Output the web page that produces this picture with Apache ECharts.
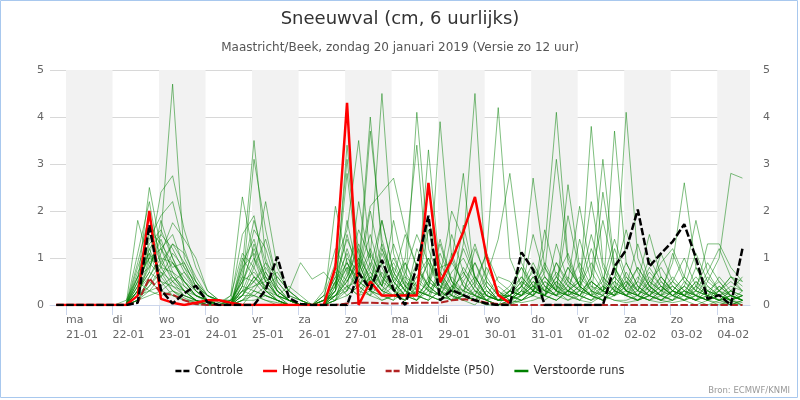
<!doctype html>
<html lang="nl">
<head>
<meta charset="UTF-8">
<title>Sneeuwval (cm, 6 uurlijks)</title>
<style>
  html, body { margin: 0; padding: 0; background: #fff; }
  #main { width: 800px; height: 400px; }
</style>
</head>
<body>
<div id="main"></div>
<script src="https://cdn.jsdelivr.net/npm/echarts@6/dist/echarts.min.js"></script>
<script>
// tijd in uren vanaf ma 21-01 00:00; eerste waarde zo 20-01 19:00, daarna elke 6 uur
var startUur = -5, stapUur = 6;
var dagNamen = ['ma','di','wo','do','vr','za','zo','ma','di','wo','do','vr','za','zo','ma'];
var dagDatums = ['21-01','22-01','23-01','24-01','25-01','26-01','27-01','28-01',
                 '29-01','30-01','31-01','01-02','02-02','03-02','04-02'];
var yTicks = [0, 1, 2, 3, 4, 5];

var controle = [0,0,0,0,0,0,0,0.05,1.7,0.32,
  0.03,0.25,0.41,0.06,0,0,0,0,0.32,1.03,
  0.15,0.02,0,0,0,0,0.68,0.33,0.96,0.33,
  0,0.82,1.9,0.1,0.32,0.21,0.1,0.03,0,0,
  1.12,0.75,0,0,0,0,0,0,0.82,1.17,
  2.03,0.82,1.1,1.35,1.72,1.0,0.13,0.21,0,1.2];

var hogeResolutie = [0,0,0,0,0,0,0,0.2,2.0,0.13,
  0.05,0,0.05,0.1,0.1,0.05,0,0,0,0,
  0,0,0,0,0.8,4.3,0,0.5,0.2,0.2,
  0.2,0.2,2.6,0.48,0.96,1.56,2.3,1.03,0.21,0.04];

var middelste = [0,0,0,0,0,0,0,0.05,0.57,0.25,
  0.22,0.1,0.02,0,0,0,0,0,0,0,
  0,0,0,0,0,0.03,0.05,0.05,0.04,0.03,
  0.03,0.05,0.05,0.05,0.1,0.12,0.1,0.05,0.02,0,
  0,0,0,0,0,0,0,0,0,0,
  0,0,0,0,0,0,0,0,0,0];

// verstoorde runs (ensemble leden)
var m01 = [0,0,0,0,0,0, 0,0.3,1.2,1.5,4.7,1.0,0.5,0.2,0.1, 0.1,0.5,1.2,0.6,0.2,0.1,0,0,
  0,0.2,0.5,1.0,0.6,0.3,0.8,0.4,0.2,0.5,0.3,0.1,0.2,0.1,0,0,
  0.1,0.3,0.6,0.2,0.1,0.3,0.5,0.2,0.1,0.4,0.2,0.1,0.3,0.1,0.2,0.1,0,0.1,0.2,0.1,0];
var m02 = [0,0,0,0,0,0, 0,0.5,2.5,1.2,0.6,0.3,0.1,0,0, 0,0.8,3.5,1.0,0.3,0.1,0,0,
  0.1,0.6,1.4,0.8,4.0,1.2,0.5,0.2,0.6,1.0,0.4,0.2,0.1,0,0.3,0.1,
  0.2,0.5,0.3,1.2,4.1,1.0,0.4,0.2,0.1,0.3,0.5,0.2,0.1,0.3,0.4,0.2,0.1,0.3,0.2,0.1,0.2];
var m03 = [0,0,0,0,0,0, 0,1.8,0.9,0.6,0.3,0.1,0,0,0, 0.2,2.3,1.0,0.5,0.2,0,0,0,
  0,2.1,0.9,0.5,0.3,1.2,0.6,0.3,0.1,0.4,1.1,0.5,0.2,0.1,0.5,0.2,
  0.3,0.2,0.8,0.4,0.2,0.6,0.3,3.8,0.9,0.4,0.2,0.1,0.3,0.6,0.3,0.2,0.5,0.2,0.1,0,0.1];
var m04 = [0,0,0,0,0,0, 0,0.2,1.0,2.4,2.75,1.6,0.8,0.3,0.1, 0,0.4,3.1,1.6,0.5,0.2,0.1,0,
  0,0.3,3.4,1.1,0.5,0.2,0.1,0.7,1.5,0.9,0.4,0.3,1.2,0.6,0.2,0.1,
  0.1,0.4,2.7,0.8,0.3,0.2,0.1,0.5,0.3,0.6,1.6,0.7,0.3,0.2,0.1,0.3,0.2,0.1,0.4,0.2,0.1];
var m05 = [0,0,0,0,0,0, 0,0.4,1.4,1.9,2.2,1.2,0.5,0.1,0, 0,0.3,0.9,2.2,0.8,0.3,0.1,0,
  0.2,0.9,1.6,3.5,1.0,0.4,0.2,0.1,0.3,0.2,0.8,0.9,2.8,0.4,0.1,0,
  0,0.2,0.4,0.3,0.9,0.5,2.1,0.7,0.3,0.2,0.4,0.8,0.4,0.2,0.3,0.6,1.8,0.7,0.3,0.1,0.2];
var m06 = [0,0,0,0,0,0, 0,0.1,0.6,1.1,1.75,1.4,1.0,0.3,0.1, 0.1,1.5,1.9,0.7,0.3,0.1,0,0,
  0,0.4,0.8,0.6,3.7,1.4,0.5,0.9,0.3,0.2,0.1,0.4,0.6,1.3,0.5,0.2,
  0.2,0.1,0.3,0.7,3.1,0.9,0.4,0.2,0.3,0.5,0.2,0.1,0.2,0.4,0.2,0.1,0.3,1.3,1.3,0.8,0.5];
var m07 = [0,0,0,0,0,0, 0,1.1,2.2,0.8,0.4,0.2,0.1,0.05,0, 0,0.6,1.6,1.2,0.4,0.1,0,0,
  0.3,1.2,0.7,1.6,1.0,4.5,1.1,0.4,0.2,3.3,0.7,0.3,0.2,0.1,0.4,0.1,
  0.1,0.3,0.2,0.5,0.3,2.56,0.8,0.3,0.2,3.7,0.9,0.4,0.2,0.1,0.3,0.2,0.1,0.2,0.4,0.2,0.1];
var m08 = [0,0,0,0,0,0, 0.1,0.6,1.6,1.3,0.9,0.5,0.2,0.1,0, 0.1,0.2,0.5,0.9,0.6,0.3,0.9,0.55,
  0.7,0.4,3.1,0.9,0.3,0.2,0.6,1.5,0.8,0.3,3.9,1.0,0.4,0.2,0.1,0,
  0.3,0.6,0.3,0.2,0.4,0.3,0.2,0.6,3.1,0.8,0.3,0.5,1.5,0.6,0.3,0.2,0.4,0.2,0.1,0.3,0.2];
var m09 = [0,0,0,0,0,0, 0,0.3,0.8,1.5,1.2,0.7,0.3,0.1,0, 0,0.9,1.4,0.5,0.2,0,0,0,
  0,0.1,0.3,0.8,2.1,2.4,2.7,1.6,0.8,0.4,0.2,0.1,0.5,0.9,0.3,0.1,
  0.2,0.1,0.3,0.6,0.3,0.2,0.4,0.9,0.4,0.2,4.1,1.0,0.4,0.2,0.5,0.3,0.2,0.1,0.3,0.5,0.3];
var m10 = [0,0,0,0,0,0, 0,0.9,1.9,1.0,0.5,0.2,0.1,0,0, 0,0.2,0.6,0.4,0.1,0,0,0,
  0.1,0.5,0.9,0.4,0.8,1.8,0.7,0.3,4.1,1.2,0.5,0.3,0.1,0.2,0.6,0.2,
  0.4,0.8,0.3,0.2,0.6,1.1,0.4,0.2,2.4,0.8,0.3,0.2,0.6,0.3,0.9,2.6,0.8,0.3,0.2,0.1,0.2];
var m11 = [0,0,0,0,0,0, 0,0.2,0.5,0.9,1.3,1.1,0.6,0.2,0.05, 0.2,1.1,0.8,1.4,0.5,0.2,0.1,0,
  0,0.2,0.6,1.3,0.7,0.4,1.0,0.5,0.3,1.6,0.6,0.2,1.3,4.5,0.4,0.1,
  0.2,0.4,0.9,0.4,0.2,0.5,0.3,1.2,0.5,0.3,0.2,0.6,0.3,1.1,0.5,0.2,0.1,0.5,1.0,2.8,2.7];
var m12 = [0,0,0,0,0,0, 0,0.7,1.1,0.7,0.3,0.15,0.05,0,0, 0,0.1,0.3,0.2,0.1,0,0,0,
  0.1,0.3,1.8,0.6,1.2,0.5,0.3,0.2,0.1,0.4,0.2,0.7,1.0,0.5,1.1,4.2,
  1.0,0.4,0.2,0.5,0.3,0.8,0.4,0.2,0.6,0.3,0.2,0.1,0.4,0.2,0.1,0.3,0.6,0.3,0.1,0.2,0.1];
var m13 = [0,0,0,0,0,0, 0,0.4,1.3,1.6,1.0,0.4,0.2,0.1,0.05, 0,0.7,1.8,0.9,0.3,0.1,0,0,
  0,0.8,0.5,1.0,0.4,0.9,0.4,1.0,3.4,0.5,0.3,1.5,0.7,0.3,0.1,0.4,
  0.2,0.5,0.3,0.9,0.4,0.2,1.4,0.5,0.3,0.8,0.4,0.2,0.5,0.8,0.4,0.2,0.3,0.2,0.6,0.3,0.1];
var m14 = [0,0,0,0,0,0, 0,0.1,0.4,0.8,0.7,0.5,0.3,0.1,0, 0,0.3,0.4,0.6,0.3,0.1,0,0,
  0.2,0.1,1.0,0.7,1.5,0.6,0.3,0.6,0.4,1.8,0.9,0.4,0.2,1.2,0.6,1.4,
  2.8,0.9,0.4,0.2,0.6,0.3,0.2,0.5,0.3,1.2,0.5,0.2,0.1,0.3,0.5,1.0,0.4,0.2,0.1,0.3,0.2];
var m15 = [0,0,0,0,0,0, 0,0.6,1.0,1.2,0.8,0.9,0.4,0.1,0, 0.1,0.5,1.0,0.3,0.1,0,0,0,
  0,0.4,0.9,0.4,0.2,1.1,0.5,0.2,0.1,0.3,0.6,2.0,1.4,0.6,0.2,0.1,
  0.1,0.3,1.5,0.6,0.3,1.9,0.7,0.3,0.1,0.4,0.2,0.3,0.7,0.4,0.2,0.4,0.2,0.1,0.3,0.6,0.4];
var m16 = [0,0,0,0,0,0, 0,0.3,0.7,0.5,0.4,0.3,0.2,0.05,0, 0,1.0,0.6,0.3,0.2,0.4,0.2,0,
  0.1,0.6,0.3,2.2,0.8,0.4,1.3,0.6,0.2,0.1,0.3,0.2,0.1,0.4,1.1,0.5,
  0.3,0.2,0.5,0.3,0.2,0.4,0.9,0.4,0.2,0.6,0.3,0.8,0.4,0.2,1.1,0.5,0.2,0.1,0.2,0.1,0];
var m17 = [0,0,0,0,0,0, 0,0.8,1.5,0.9,0.6,0.3,0.1,0,0, 0,0.2,0.2,0.4,0.6,0.3,0.1,0,
  0,0.2,0.7,0.3,0.6,0.3,0.2,0.1,1.2,0.6,0.3,0.9,0.5,0.2,0.1,0,
  0.1,0.2,0.4,0.2,1.3,0.5,0.3,0.2,0.4,0.2,0.7,0.3,0.2,0.4,0.2,0.1,0.4,0.9,0.5,0.2,0.1];
var m18 = [0,0,0,0,0,0, 0,0.2,0.9,1.2,1.5,0.8,0.3,0.1,0, 0,0.4,1.3,0.6,0.2,0.1,0,0,
  0,0.3,2.8,0.7,0.4,0.2,0.1,0.3,0.2,1.0,0.5,0.2,0.8,0.4,0.1,0.2,
  0.2,0.6,0.3,0.2,0.1,0.3,0.5,2.2,0.8,0.3,0.2,0.4,0.2,0.1,0.3,0.2,0.5,0.3,0.2,0.4,0.3];
var m19 = [0,0,0,0,0,0, 0,0.5,0.3,0.4,0.6,0.4,0.2,0.1,0, 0,0.1,0.2,0.1,0.05,0,0,0,
  0.1,0.2,0.4,0.5,1.1,0.6,0.3,0.2,0.5,0.3,0.2,0.1,0.3,0.2,0.1,0,
  0,0.1,0.2,0.4,0.2,0.1,0.3,0.2,0.1,0.2,0.3,0.1,0.2,0.1,0.3,0.1,0.2,0.1,0,0.1,0.05];
var m20 = [0,0,0,0,0,0, 0,0.1,0.2,0.3,0.5,0.7,0.4,0.2,0.1, 0,0.6,0.5,0.8,0.4,0.1,0,0,
  0,0.1,0.6,1.2,0.5,1.3,0.6,0.3,0.9,0.4,1.4,0.5,0.2,0.1,0.2,0.1,
  0.3,0.8,0.4,0.2,0.5,0.3,0.2,0.6,1.8,0.7,0.3,0.2,0.4,0.9,1.2,0.6,0.3,0.2,0.1,0.2,0.1];
var m21 = [0,0,0,0,0,0, 0,0.3,0.6,1.0,0.9,0.6,0.3,0.1,0, 0,0.2,0.8,0.3,0.1,0,0,0,
  0,0.5,0.2,0.4,0.9,0.4,1.8,0.7,0.3,0.2,0.1,0.4,0.3,0.9,0.4,0.1,
  0.1,0.4,0.2,1.6,0.6,0.3,0.2,0.1,0.4,0.2,0.6,0.3,1.0,0.5,0.2,0.4,1.1,0.5,0.3,0.1,0.2];
var m22 = [0,0,0,0,0,0, 0,0.4,1.1,0.5,0.2,0.1,0.1,0,0, 0,0.3,0.5,0.2,0.1,0,0,0,
  0.1,0.3,1.2,0.5,0.3,0.7,0.3,0.1,0.4,0.9,0.3,0.1,0.2,0.1,0.3,0.1,
  0.2,0.1,0.3,0.2,0.5,0.2,0.1,0.3,0.2,0.5,0.3,0.2,0.1,0.2,0.4,0.2,0.1,0.3,0.5,0.2,0.1];
var m23 = [0,0,0,0,0,0, 0,0.2,0.3,0.6,1.1,0.8,0.5,0.2,0.1, 0,0.1,0.4,0.5,0.7,0.3,0.1,0,
  0,0.7,0.4,0.2,0.6,0.3,0.2,0.9,0.4,0.2,0.6,0.3,1.7,0.6,0.2,0.1,
  0.3,0.2,0.6,0.3,0.2,0.8,0.4,0.2,0.1,0.3,0.9,0.4,0.2,0.6,0.3,0.2,0.8,0.4,0.2,0.1,0.3];
var m24 = [0,0,0,0,0,0, 0,0.6,0.8,1.4,0.7,0.3,0.1,0,0, 0,0.5,0.7,0.4,0.2,0.1,0,0,
  0,0.2,0.5,0.9,0.3,0.2,0.4,0.2,0.1,0.6,0.3,1.1,0.4,0.2,0.8,0.3,
  0.1,0.3,0.2,0.6,0.3,0.2,0.4,1.5,0.6,0.3,0.2,0.5,0.3,0.2,0.1,0.5,0.3,0.7,1.2,0.6,0.3];
var m25 = [0,0,0,0,0,0, 0,0.1,0.5,0.3,0.2,0.1,0.05,0,0, 0,0.1,0.1,0.2,0.1,0,0,0,
  0,0.1,0.2,0.4,0.2,0.1,0.2,0.1,0.3,0.2,0.1,0.2,0.1,0.3,0.1,0,
  0.05,0.1,0.2,0.1,0.3,0.1,0.2,0.1,0.2,0.1,0.1,0.2,0.1,0.05,0.1,0.2,0.1,0,0.1,0.05,0];
var m26 = [0,0,0,0,0,0, 0,0.3,1.2,0.6,0.9,0.5,0.2,0.1,0, 0,0.8,1.1,0.5,0.2,0.1,0,0,
  0.2,0.4,1.5,0.6,2.0,0.8,0.3,0.5,0.2,0.1,0.7,0.3,0.2,0.5,0.2,0.1,
  0.2,0.4,0.7,0.3,0.2,0.3,0.6,0.3,0.5,1.4,0.6,0.3,0.2,0.5,0.3,0.6,0.3,0.2,0.1,0.2,0.1];
var m27 = [0,0,0,0,0,0, 0,0.2,0.4,0.7,0.5,0.3,0.1,0.05,0, 0,0,0.3,0.7,0.3,0.1,0,0,
  0,0.3,0.8,0.3,0.2,0.5,0.9,0.4,0.6,0.3,0.2,0.6,0.3,0.2,0.1,0.3,
  0.1,0.2,0.5,0.3,0.7,0.4,0.2,0.1,0.3,0.2,0.5,0.3,0.8,0.4,0.2,0.3,0.1,0.2,0.3,0.6,0.5];
var m28 = [0,0,0,0,0,0, 0,0.5,1.0,0.8,1.3,0.9,0.4,0.2,0.1, 0,0.4,0.3,0.2,0.1,0,0,0,
  0.1,0.2,0.3,0.7,0.4,1.8,0.7,0.3,0.2,0.5,1.3,0.5,0.3,0.6,0.2,0.1,
  0.3,0.2,0.4,0.8,0.4,0.2,0.3,0.5,0.3,0.2,0.4,1.3,0.5,0.3,0.2,0.4,0.2,0.6,0.3,0.2,0.1];
var m29 = [0,0,0,0,0,0, 0,0.1,0.3,0.2,0.3,0.2,0.1,0,0, 0,0.2,0.6,0.3,0.1,0,0,0,
  0,0.1,0.4,0.2,0.3,0.1,0.2,0.4,0.2,0.1,0.3,0.1,0.2,0.1,0,0,
  0.1,0.05,0.1,0.2,0.1,0.3,0.1,0.05,0.2,0.1,0.05,0.1,0.2,0.1,0.05,0.1,0.2,0.1,0.05,0,0.1];
var m30 = [0,0,0,0,0,0, 0,0.3,0.7,1.8,1.0,0.5,0.2,0.1,0, 0.1,0.3,0.2,0.1,0,0,0,0,
  0,0.5,1.1,0.4,0.7,0.3,0.5,0.2,0.8,0.4,0.2,0.3,0.7,0.3,0.2,0.6,
  0.5,0.2,0.3,0.2,0.9,0.4,0.2,0.4,0.3,0.6,0.3,0.2,0.5,0.3,0.6,0.3,0.2,0.4,0.2,0.3,0.6];

var leden = [m01,m02,m03,m04,m05,m06,m07,m08,m09,m10,m11,m12,m13,m14,m15,
             m16,m17,m18,m19,m20,m21,m22,m23,m24,m25,m26,m27,m28,m29,m30];

var xMin = -8.25, xMax = 352.9;

function paren(waarden) {
  return waarden.map(function (v, i) { return [startUur + i * stapUur, v]; });
}

var dagTicks = dagDatums.map(function (d, i) { return i * 24; });

// grijze banden om de andere dag
var banden = [];
for (var d = 0; d < dagDatums.length; d += 2) {
  banden.push([{ xAxis: d * 24 }, { xAxis: Math.min((d + 1) * 24, xMax) }]);
}

var series = [{
  type: 'line', name: 'banden', data: [], z: 0, silent: true,
  markArea: { silent: true, itemStyle: { color: '#f2f2f2' }, data: banden }
}];

leden.forEach(function (lid) {
  series.push({
    type: 'line', name: 'Verstoorde runs', data: paren(lid), z: 2,
    symbol: 'none', silent: true,
    itemStyle: { color: '#008000' },
    lineStyle: { color: 'rgba(0,128,0,0.5)', width: 1 }
  });
});

series.push({
  type: 'line', name: 'Middelste (P50)', data: paren(middelste), z: 3,
  symbol: 'none', itemStyle: { color: '#b22222' },
  lineStyle: { color: '#b22222', width: 2, type: [7.5, 2.5] }
});
series.push({
  type: 'line', name: 'Hoge resolutie', data: paren(hogeResolutie), z: 4,
  symbol: 'none', itemStyle: { color: '#ff0000' },
  lineStyle: { color: '#ff0000', width: 2.5 }
});
series.push({
  type: 'line', name: 'Controle', data: paren(controle), z: 5,
  symbol: 'none', itemStyle: { color: '#000000' },
  lineStyle: { color: '#000000', width: 2.5, type: [7.5, 2.5] }
});

var iconStreep = 'path://M0,0h6v2.5h-6z M8,0h6v2.5h-6z';
var iconLijn = 'path://M0,0h14v2.5h-14z';

var font = 'DejaVu Sans';
var chart = echarts.init(document.getElementById('main'));
chart.setOption({
  animation: false,
  title: [{
    text: 'Sneeuwval (cm, 6 uurlijks)', left: 'center', top: 5,
    textStyle: { fontFamily: font, fontSize: 18, fontWeight: 'normal', color: '#333' }
  }, {
    text: 'Maastricht/Beek, zondag 20 januari 2019 (Versie zo 12 uur)', left: 'center', top: 37,
    textStyle: { fontFamily: font, fontSize: 12, fontWeight: 'normal', color: '#555' }
  }],
  legend: {
    top: 360, left: 'center', itemWidth: 14, itemHeight: 2.5, itemGap: 20,
    selectedMode: false,
    textStyle: { fontFamily: font, fontSize: 11.5, color: '#333' },
    data: [
      { name: 'Controle', icon: iconStreep, itemStyle: { color: '#000000' } },
      { name: 'Hoge resolutie', icon: iconLijn, itemStyle: { color: '#ff0000' } },
      { name: 'Middelste (P50)', icon: iconStreep, itemStyle: { color: '#b22222' } },
      { name: 'Verstoorde runs', icon: iconLijn, itemStyle: { color: '#008000', opacity: 1 } }
    ]
  },
  grid: { left: 50, right: 50, top: 70, bottom: 95 },
  xAxis: {
    type: 'value', min: xMin, max: xMax, z: 1,
    axisLine: { show: true, lineStyle: { color: '#ccd6eb', width: 1 } },
    axisTick: { show: true, customValues: dagTicks, length: 10, lineStyle: { color: '#ccd6eb' } },
    axisLabel: {
      customValues: dagTicks, align: 'left', margin: 8,
      fontFamily: font, fontSize: 11, lineHeight: 15, color: '#666',
      formatter: function (v) {
        var i = Math.round(v / 24);
        return dagNamen[i] + '\n' + dagDatums[i];
      }
    },
    splitLine: { show: false }
  },
  yAxis: [{
    type: 'value', min: yTicks[0], max: yTicks[yTicks.length - 1], interval: 1, z: 1,
    axisLine: { show: false }, axisTick: { show: false },
    axisLabel: { margin: 6, fontFamily: font, fontSize: 11, color: '#666' },
    splitLine: { lineStyle: { color: '#d8d8d8' } }
  }, {
    type: 'value', position: 'right', min: yTicks[0], max: yTicks[yTicks.length - 1], interval: 1,
    axisLine: { show: false }, axisTick: { show: false },
    axisLabel: { margin: 13, fontFamily: font, fontSize: 11, color: '#666' },
    splitLine: { show: false }
  }],
  graphic: [{
    type: 'text', right: 10, top: 386,
    style: { text: 'Bron: ECMWF/KNMI', font: '8.5px "DejaVu Sans"', fill: '#999' }
  }, {
    type: 'rect', silent: true, z: 100,
    shape: { x: 0.5, y: 0.5, width: 797, height: 397 },
    style: { fill: 'none', stroke: '#a8c8ee', lineWidth: 1 }
  }],
  series: series
});
</script>
</body>
</html>
